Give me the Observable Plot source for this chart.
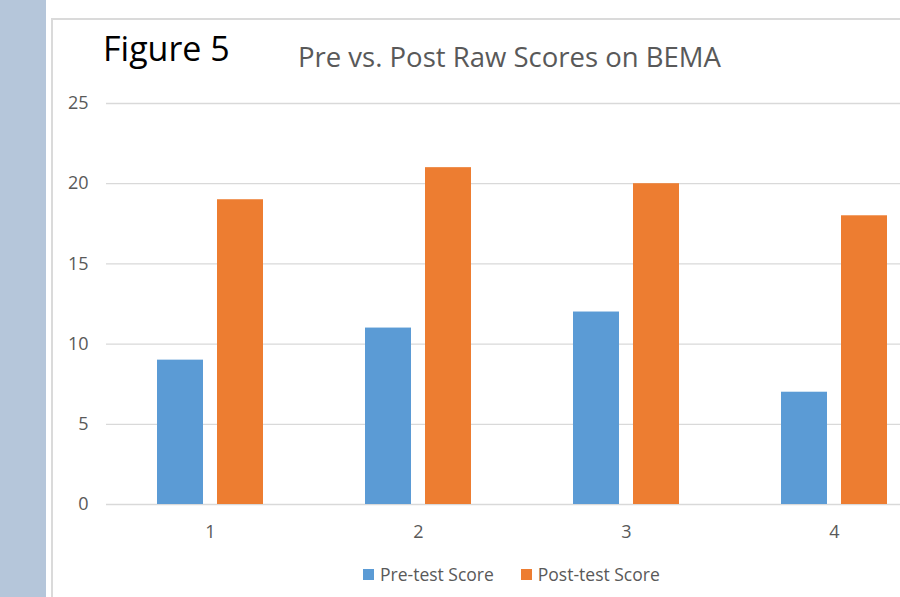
<!DOCTYPE html>
<html><head><meta charset="utf-8">
<script src="https://cdn.jsdelivr.net/npm/d3@7"></script>
<script src="https://cdn.jsdelivr.net/npm/@observablehq/plot@0.6"></script>
<style>
html,body{margin:0;padding:0;background:#fff}
body{width:900px;height:597px;overflow:hidden;position:relative;font-family:"Open Sans",sans-serif}
#strip{position:absolute;left:0;top:0;width:46px;height:597px;background:#b5c6da}
#box{position:absolute;left:51px;top:18px;width:1000px;height:700px;border-left:2px solid #dadada;border-top:2px solid #dadada}
#chart{position:absolute;left:0;top:0}
#fig{position:absolute;left:103px;top:31px;font-size:34px;line-height:1;color:#000;white-space:nowrap}
#title{position:absolute;left:298px;top:43px;font-size:27.5px;line-height:1;color:#595959;white-space:nowrap}
#legend{position:absolute;left:363px;top:566px;font-size:17.5px;line-height:1;color:#595959;display:flex;align-items:center;white-space:nowrap}
.sw{display:inline-block;width:11px;height:11px;margin-right:6px}
.item{display:flex;align-items:center}
</style>
</head><body>
<div id="strip"></div>
<div id="box"></div>
<div id="chart"></div>
<div id="fig">Figure 5</div>
<div id="title">Pre vs. Post Raw Scores on BEMA</div>
<div id="legend"></div>
<script>
const categories = ["1", "2", "3", "4"];
const preScores = [9, 11, 12, 7];
const postScores = [19, 21, 20, 18];
const yTicks = [0, 5, 10, 15, 20, 25];
const seriesNames = ["Pre-test Score", "Post-test Score"];
const seriesColors = ["#5b9bd5", "#ed7d31"];

const pre = categories.map((c, i) => ({cat: c, value: preScores[i]}));
const post = categories.map((c, i) => ({cat: c, value: postScores[i]}));

const chart = Plot.plot({
  width: 960,
  height: 597,
  marginTop: 103,
  marginBottom: 93,
  marginLeft: 106,
  marginRight: 22,
  style: {background: "transparent", maxWidth: "none", overflow: "visible", fontFamily: "'Open Sans', sans-serif"},
  x: {type: "band", domain: categories, paddingInner: 0.49, paddingOuter: 0.245, label: null},
  y: {domain: [0, 25], label: null},
  marks: [
    Plot.gridY(yTicks, {stroke: "#d9d9d9", strokeOpacity: 1, strokeWidth: 1.3}),
    Plot.barY(pre, {x: "cat", y: "value", fill: seriesColors[0], insetRight: 60}),
    Plot.barY(post, {x: "cat", y: "value", fill: seriesColors[1], insetLeft: 60}),
    Plot.axisY(yTicks, {tickSize: 0, tickPadding: 18, fontSize: 18, color: "#595959", label: null}),
    Plot.axisX({tickSize: 0, tickPadding: 21, fontSize: 18, color: "#595959", label: null})
  ]
});
document.getElementById("chart").appendChild(chart);

const legend = document.getElementById("legend");
seriesNames.forEach((name, i) => {
  const item = document.createElement("div");
  item.className = "item";
  if (i > 0) item.style.marginLeft = "27px";
  const sw = document.createElement("span");
  sw.className = "sw";
  sw.style.background = seriesColors[i];
  item.appendChild(sw);
  const t = document.createElement("span");
  t.textContent = name;
  item.appendChild(t);
  legend.appendChild(item);
});
</script>
</body></html>
